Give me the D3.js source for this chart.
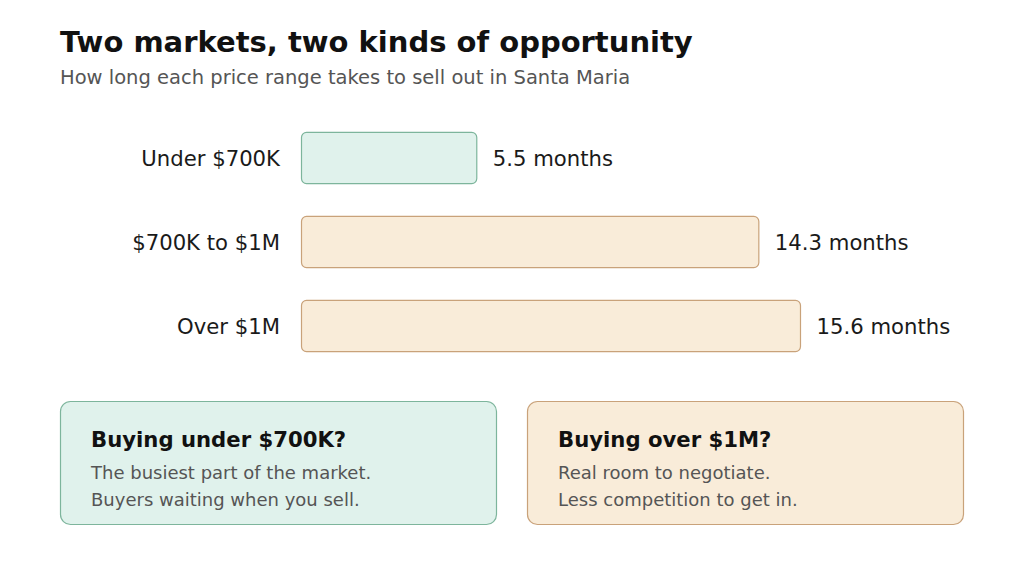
<!DOCTYPE html>
<html><head><meta charset="utf-8">
<script src="https://cdn.jsdelivr.net/npm/d3@7"></script>
<style>
html,body{margin:0;padding:0;background:#fff;}
svg{display:block;font-family:"DejaVu Sans",sans-serif;}
</style></head>
<body>
<svg id="chart" width="1024" height="573"></svg>
<script>
const categories = ["Under $700K", "$700K to $1M", "Over $1M"];
const months = [5.5, 14.3, 15.6];
const groups = ["green", "tan", "tan"];
const valueLabels = ["5.5 months", "14.3 months", "15.6 months"];
const cardTitles = ["Buying under $700K?", "Buying over $1M?"];
const cardLines = [["The busiest part of the market.", "Buyers waiting when you sell."],
                   ["Real room to negotiate.", "Less competition to get in."]];
const cardGroups = ["green", "tan"];

const fills = {green: "#e0f2ec", tan: "#f9ecd9"};
const strokes = {green: "#7db59c", tan: "#c9a27a"};

const svg = d3.select("#chart");

svg.append("text").attr("x", 60).attr("y", 52)
  .attr("font-size", 29).attr("font-weight", "bold").attr("fill", "#111")
  .text("Two markets, two kinds of opportunity");
svg.append("text").attr("x", 60).attr("y", 84)
  .attr("font-size", 19.5).attr("fill", "#555")
  .text("How long each price range takes to sell out in Santa Maria");

const x = d3.scaleLinear().domain([0, 15.6]).range([301, 801]);
const y = d3.scaleBand().domain(categories).range([116, 368]).paddingInner(0.38).paddingOuter(0.19);

const rows = svg.append("g").selectAll("g").data(categories).join("g");
rows.append("rect")
  .attr("x", x(0) + 0.5)
  .attr("y", d => y(d) + 0.5)
  .attr("width", (d, i) => x(months[i]) - x(0) - 1)
  .attr("height", y.bandwidth() - 1)
  .attr("rx", 5)
  .attr("fill", (d, i) => fills[groups[i]])
  .attr("stroke", (d, i) => strokes[groups[i]])
  .attr("stroke-width", 1.2);
rows.append("text")
  .attr("x", 280).attr("y", d => y(d) + y.bandwidth() / 2 + 1)
  .attr("dy", "0.35em").attr("text-anchor", "end")
  .attr("font-size", 21.2).attr("fill", "#1a1a1a")
  .text(d => d);
rows.append("text")
  .attr("x", (d, i) => x(months[i]) + 15.5).attr("y", d => y(d) + y.bandwidth() / 2 + 1)
  .attr("dy", "0.35em")
  .attr("font-size", 21.2).attr("fill", "#1a1a1a")
  .text((d, i) => valueLabels[i]);

const cardX = [60, 527];
const cardW = 437;
const cards = svg.append("g").selectAll("g").data(cardTitles).join("g")
  .attr("transform", (d, i) => `translate(${cardX[i]},401)`);
cards.append("rect")
  .attr("x", 0.5).attr("y", 0.5).attr("width", cardW - 1).attr("height", 123)
  .attr("rx", 10)
  .attr("fill", (d, i) => fills[cardGroups[i]])
  .attr("stroke", (d, i) => strokes[cardGroups[i]])
  .attr("stroke-width", 1.2);
cards.append("text").attr("x", 31).attr("y", 46)
  .attr("font-size", 21.2).attr("font-weight", "bold").attr("fill", "#111")
  .text(d => d);
cards.each(function(d, i) {
  d3.select(this).selectAll("text.line").data(cardLines[i]).join("text")
    .attr("class", "line")
    .attr("x", 31).attr("y", (t, j) => 78 + j * 27)
    .attr("font-size", 18).attr("fill", "#555")
    .text(t => t);
});
</script>
</body></html>
